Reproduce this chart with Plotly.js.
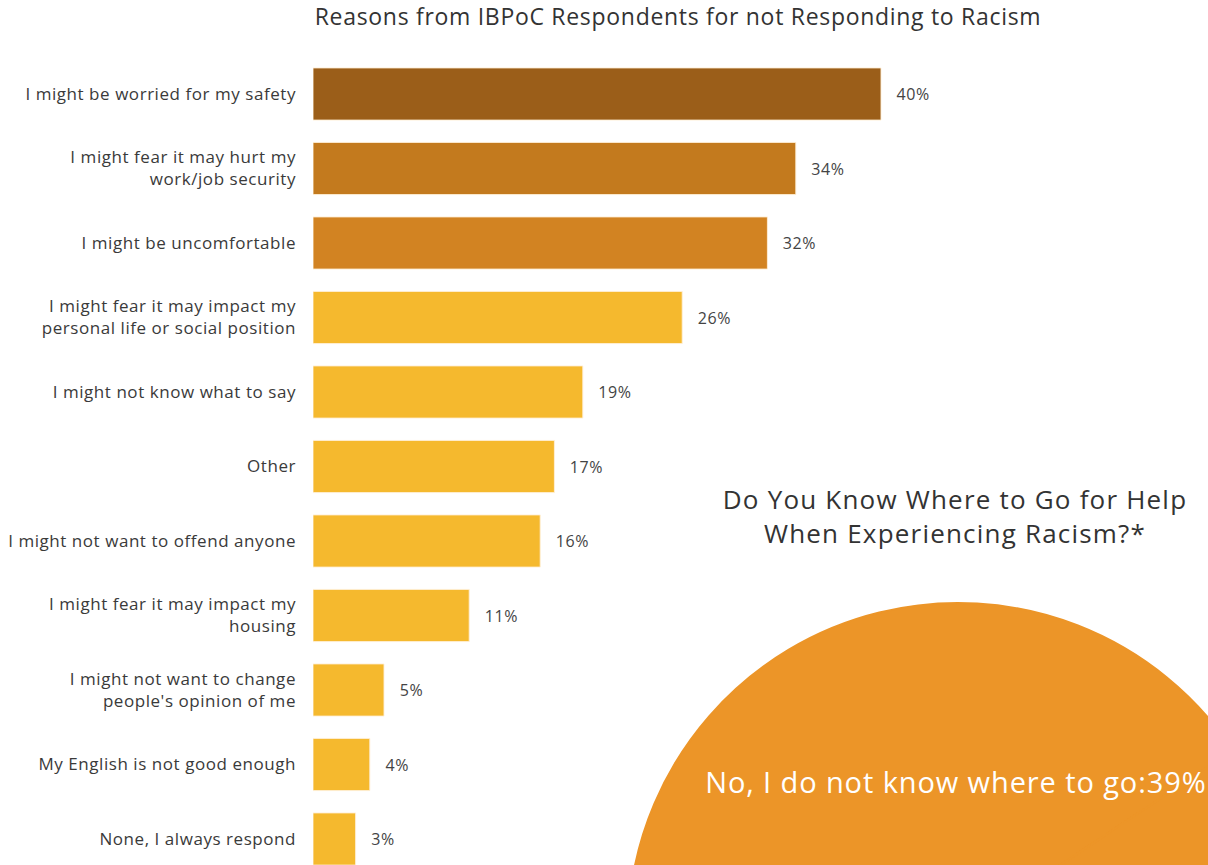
<!DOCTYPE html>
<html>
<head>
<meta charset="utf-8">
<script src="https://cdn.plot.ly/plotly-3.0.1.min.js"></script>
<style>
  html, body { margin: 0; padding: 0; background: #fff; overflow: hidden; }
  #wrap { width: 1208px; height: 865px; overflow: hidden; position: relative; }
  #chart { width: 1300px; height: 1280px; }
  #chart .ytick text { letter-spacing: 0.55px; }
  #chart .gtitle { letter-spacing: 0.7px; }
  #chart .bartext { letter-spacing: 0.6px; }
  #chart .annotation-text.pietitle { letter-spacing: 1.2px; }
  #chart .annotation-text.pielabel { letter-spacing: 0.9px; }
</style>
</head>
<body>
<div id="wrap"><div id="chart"></div></div>
<script>
// ---- data ----
const barTitle = "Reasons from IBPoC Respondents for not Responding to Racism";
const reasons = [
  "I might be worried for my safety",
  "I might fear it may hurt my<br>work/job security",
  "I might be uncomfortable",
  "I might fear it may impact my<br>personal life or social position",
  "I might not know what to say",
  "Other",
  "I might not want to offend anyone",
  "I might fear it may impact my<br>housing",
  "I might not want to change<br>people's opinion of me",
  "My English is not good enough",
  "None, I always respond"
];
const percents = [40, 34, 32, 26, 19, 17, 16, 11, 5, 4, 3];

const pieTitle = "Do You Know Where to Go for Help<br>When Experiencing Racism?*";
const pieLabels = ["No, I do not know where to go", "Other answers"];
const pieValues = [39, 61];

// ---- styles ----
const barColors = ["#9B5E19", "#C37A1E", "#D28322", "#F5B92E", "#F5B92E", "#F5B92E",
                   "#F5B92E", "#F5B92E", "#F5B92E", "#F5B92E", "#F5B92E"];
const pieColors = ["#EC9528", "#EC9528"];
const FONT = "Open Sans, Lato, sans-serif";
const W = 1300, H = 1280;

const barTrace = {
  type: "bar",
  orientation: "h",
  y: reasons,
  x: percents,
  marker: { color: barColors, line: { color: "rgba(255,240,215,0.9)", width: 1 } },
  width: 0.7,
  text: percents.map(v => v + "%"),
  texttemplate: "\u00a0\u00a0\u00a0%{text}",
  textposition: "outside",
  constraintext: "none",
  cliponaxis: false,
  textfont: { family: FONT, size: 16, color: "#444" },
  hoverinfo: "x+y",
  xaxis: "x", yaxis: "y"
};

const pieTrace = {
  type: "pie",
  labels: pieLabels,
  values: pieValues,
  sort: false,
  direction: "clockwise",
  rotation: -84,
  marker: { colors: pieColors, line: { color: pieColors[0], width: 2 } },
  textinfo: "none",
  hoverinfo: "label+percent",
  showlegend: false,
  domain: { x: [(958 - 330) / W, (958 + 330) / W], y: [(H - 933 - 330) / H, (H - 933 + 330) / H] }
};

const layout = {
  width: W, height: H,
  margin: { l: 0, r: 0, t: 0, b: 0 },
  paper_bgcolor: "#fff", plot_bgcolor: "#fff",
  showlegend: false,
  font: { family: FONT, color: "#333" },
  title: {
    text: barTitle,
    x: 678 / W, xanchor: "center", xref: "paper",
    y: 1 - 17 / H, yanchor: "middle", yref: "container",
    font: { family: FONT, size: 23, color: "#333" }
  },
  xaxis: {
    domain: [313 / W, (313 + 45 * 14.2) / W],
    range: [0, 45],
    visible: false, fixedrange: true
  },
  yaxis: {
    domain: [(H - 876.25) / H, (H - 56.75) / H],
    type: "category",
    range: [reasons.length - 0.5, -0.5],
    showgrid: false, showline: false, zeroline: false,
    ticks: "",
    ticklabelstandoff: 16,
    tickfont: { family: FONT, size: 17, color: "#3a3a3a" },
    fixedrange: true
  },
  annotations: [
    {
      text: pieTitle, xref: "paper", yref: "paper",
      x: 955 / W, y: (H - 515.5) / H, xanchor: "center", yanchor: "middle",
      showarrow: false, align: "center",
      font: { family: FONT, size: 26, color: "#333" }
    },
    {
      text: pieLabels[0] + ":" + pieValues[0] + "%", xref: "paper", yref: "paper",
      x: 955.5 / W, y: (H - 781) / H, xanchor: "center", yanchor: "middle",
      showarrow: false,
      font: { family: FONT, size: 29, color: "#ffffff" }
    }
  ]
};

Plotly.newPlot("chart", [pieTrace, barTrace], layout, { displayModeBar: false, responsive: false }).then(gd => {
  const anns = gd.querySelectorAll(".annotation-text");
  if (anns[0]) anns[0].classList.add("pietitle");
  if (anns[1]) anns[1].classList.add("pielabel");
  Plotly.relayout(gd, {});
});
</script>
</body>
</html>
